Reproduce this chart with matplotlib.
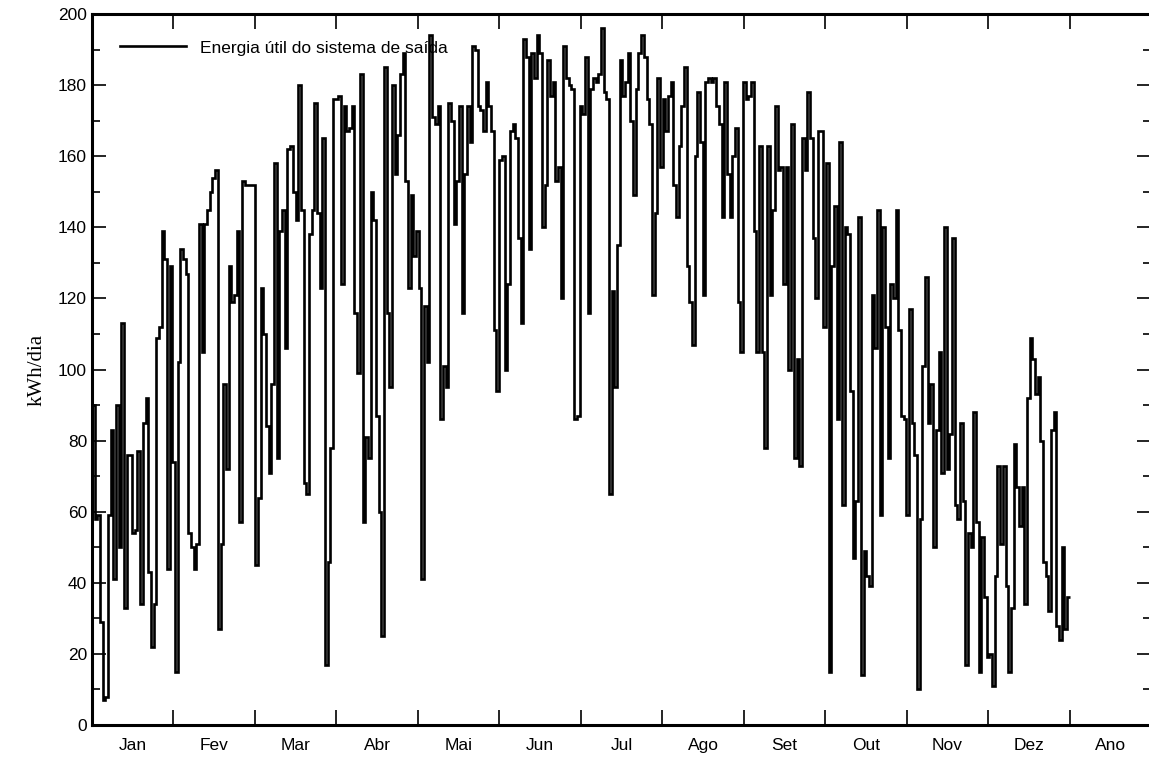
import numpy as np
import matplotlib.pyplot as plt
from matplotlib.ticker import MultipleLocator, FixedLocator

# daily useful energy (kWh/dia), one list per month-block
jan = [90, 58, 59, 29, 7, 8, 59, 83, 41, 90, 50, 113, 33, 76, 76, 54, 55, 77, 34, 85,
       92, 43, 22, 34, 109, 112, 139, 131, 44, 129, 74]
feb = [15, 102, 134, 131, 127, 54, 50, 44, 51, 141, 105, 141, 145, 150, 154, 156, 27, 51,
       96, 72, 129, 119, 121, 139, 57, 153, 152, 152, 152]
mar = [152, 45, 64, 123, 110, 84, 71, 96, 158, 75, 139, 145, 106, 162, 163, 150, 142, 180,
       145, 68, 65, 138, 145, 175, 144, 123, 165, 17, 46, 78, 176]
apr = [176, 177, 124, 174, 167, 168, 174, 116, 99, 183, 57, 81, 75, 150, 142, 87, 60, 25,
       185, 116, 95, 180, 155, 166, 183, 189, 153, 123, 149, 132, 139]
mai = [123, 41, 118, 102, 194, 171, 169, 174, 86, 101, 95, 175, 170, 141, 153, 174, 116,
       155, 174, 164, 191, 190, 174, 173, 167, 181, 174, 167, 111, 94, 159]
jun = [160, 100, 124, 167, 169, 165, 137, 113, 193, 188, 134, 189, 182, 194, 189, 140, 152,
       187, 177, 181, 153, 157, 120, 191, 182, 180, 179, 86, 87, 174]
jul = [172, 188, 116, 179, 182, 181, 183, 196, 178, 176, 65, 122, 95, 135, 187, 177, 181,
       189, 170, 149, 179, 189, 194, 188, 176, 169, 121, 144, 182, 157, 176]
ago = [167, 177, 181, 152, 143, 163, 174, 185, 129, 119, 107, 160, 178, 164, 121, 181, 182,
       181, 182, 174, 169, 143, 181, 155, 143, 160, 168, 119, 105, 181]
set_ = [176, 177, 181, 139, 105, 163, 105, 78, 163, 121, 145, 174, 156, 157, 124, 157, 100,
        169, 75, 103, 73, 165, 156, 178, 165, 137, 120, 167, 167, 112, 158]
out = [15, 129, 146, 86, 164, 62, 140, 138, 94, 47, 63, 143, 14, 49, 42, 39, 121, 106, 145,
       59, 140, 112, 75, 124, 120, 145, 111, 87, 86, 59, 117]
nov = [85, 76, 10, 58, 101, 126, 85, 96, 50, 83, 105, 71, 140, 72, 82, 137, 62, 58, 85, 63,
       17, 54, 50, 88, 57, 15, 53, 36, 19, 20]
dez = [11, 42, 73, 51, 73, 39, 15, 33, 79, 67, 56, 67, 34, 92, 109, 103, 93, 98, 80, 46, 42,
       32, 83, 88, 28, 24, 50, 27, 36]

month_labels = ["Jan", "Fev", "Mar", "Abr", "Mai", "Jun", "Jul", "Ago", "Set", "Out",
                "Nov", "Dez", "Ano"]

values = np.array(jan + feb + mar + apr + mai + jun + jul + ago + set_ + out + nov + dez)
edges = np.arange(len(values) + 1) * 24.0  # hours
month_h = 730.0

fig = plt.figure(figsize=(11.49, 7.6), dpi=100)
ax = fig.add_axes([0.080, 0.046, 0.922, 0.9355])

ax.stairs(values, edges, color="black", linewidth=1.9, baseline=None,
          label="Energia útil do sistema de saída")

ax.set_xlim(0, 13 * month_h)
ax.set_ylim(0, 200)

# y ticks: labels every 20, minor every 10, drawn inward on both sides
ax.yaxis.set_major_locator(MultipleLocator(20))
ax.yaxis.set_minor_locator(MultipleLocator(10))
ax.tick_params(axis="y", which="major", direction="in", length=10, width=1.2,
               left=True, right=True, labelsize=12.5)
ax.tick_params(axis="y", which="minor", direction="in", length=6, width=1.2,
               left=True, right=True)

# x: ticks at month boundaries, labels centred in each month
ax.xaxis.set_major_locator(FixedLocator(np.arange(0, 13) * month_h))
ax.xaxis.set_major_formatter(plt.NullFormatter())
ax.set_xticks((np.arange(13) + 0.5) * month_h, labels=month_labels, minor=True)
ax.tick_params(axis="x", which="major", direction="in", length=11, width=1.2,
               top=True, bottom=True)
ax.tick_params(axis="x", which="minor", length=0, labelsize=12.5, pad=9)

for s in ax.spines.values():
    s.set_linewidth(2.2)

ax.set_ylabel("kWh/dia", family="Liberation Serif", fontsize=15, labelpad=8)

for lab in ax.get_xticklabels(minor=True) + ax.get_yticklabels():
    lab.set_family("Liberation Sans")

ax.legend(loc="upper left", frameon=False, handlelength=3.8,
          prop={"family": "Liberation Sans", "size": 12.5},
          bbox_to_anchor=(0.012, 0.985))

fig.savefig("out.png", dpi=100)
